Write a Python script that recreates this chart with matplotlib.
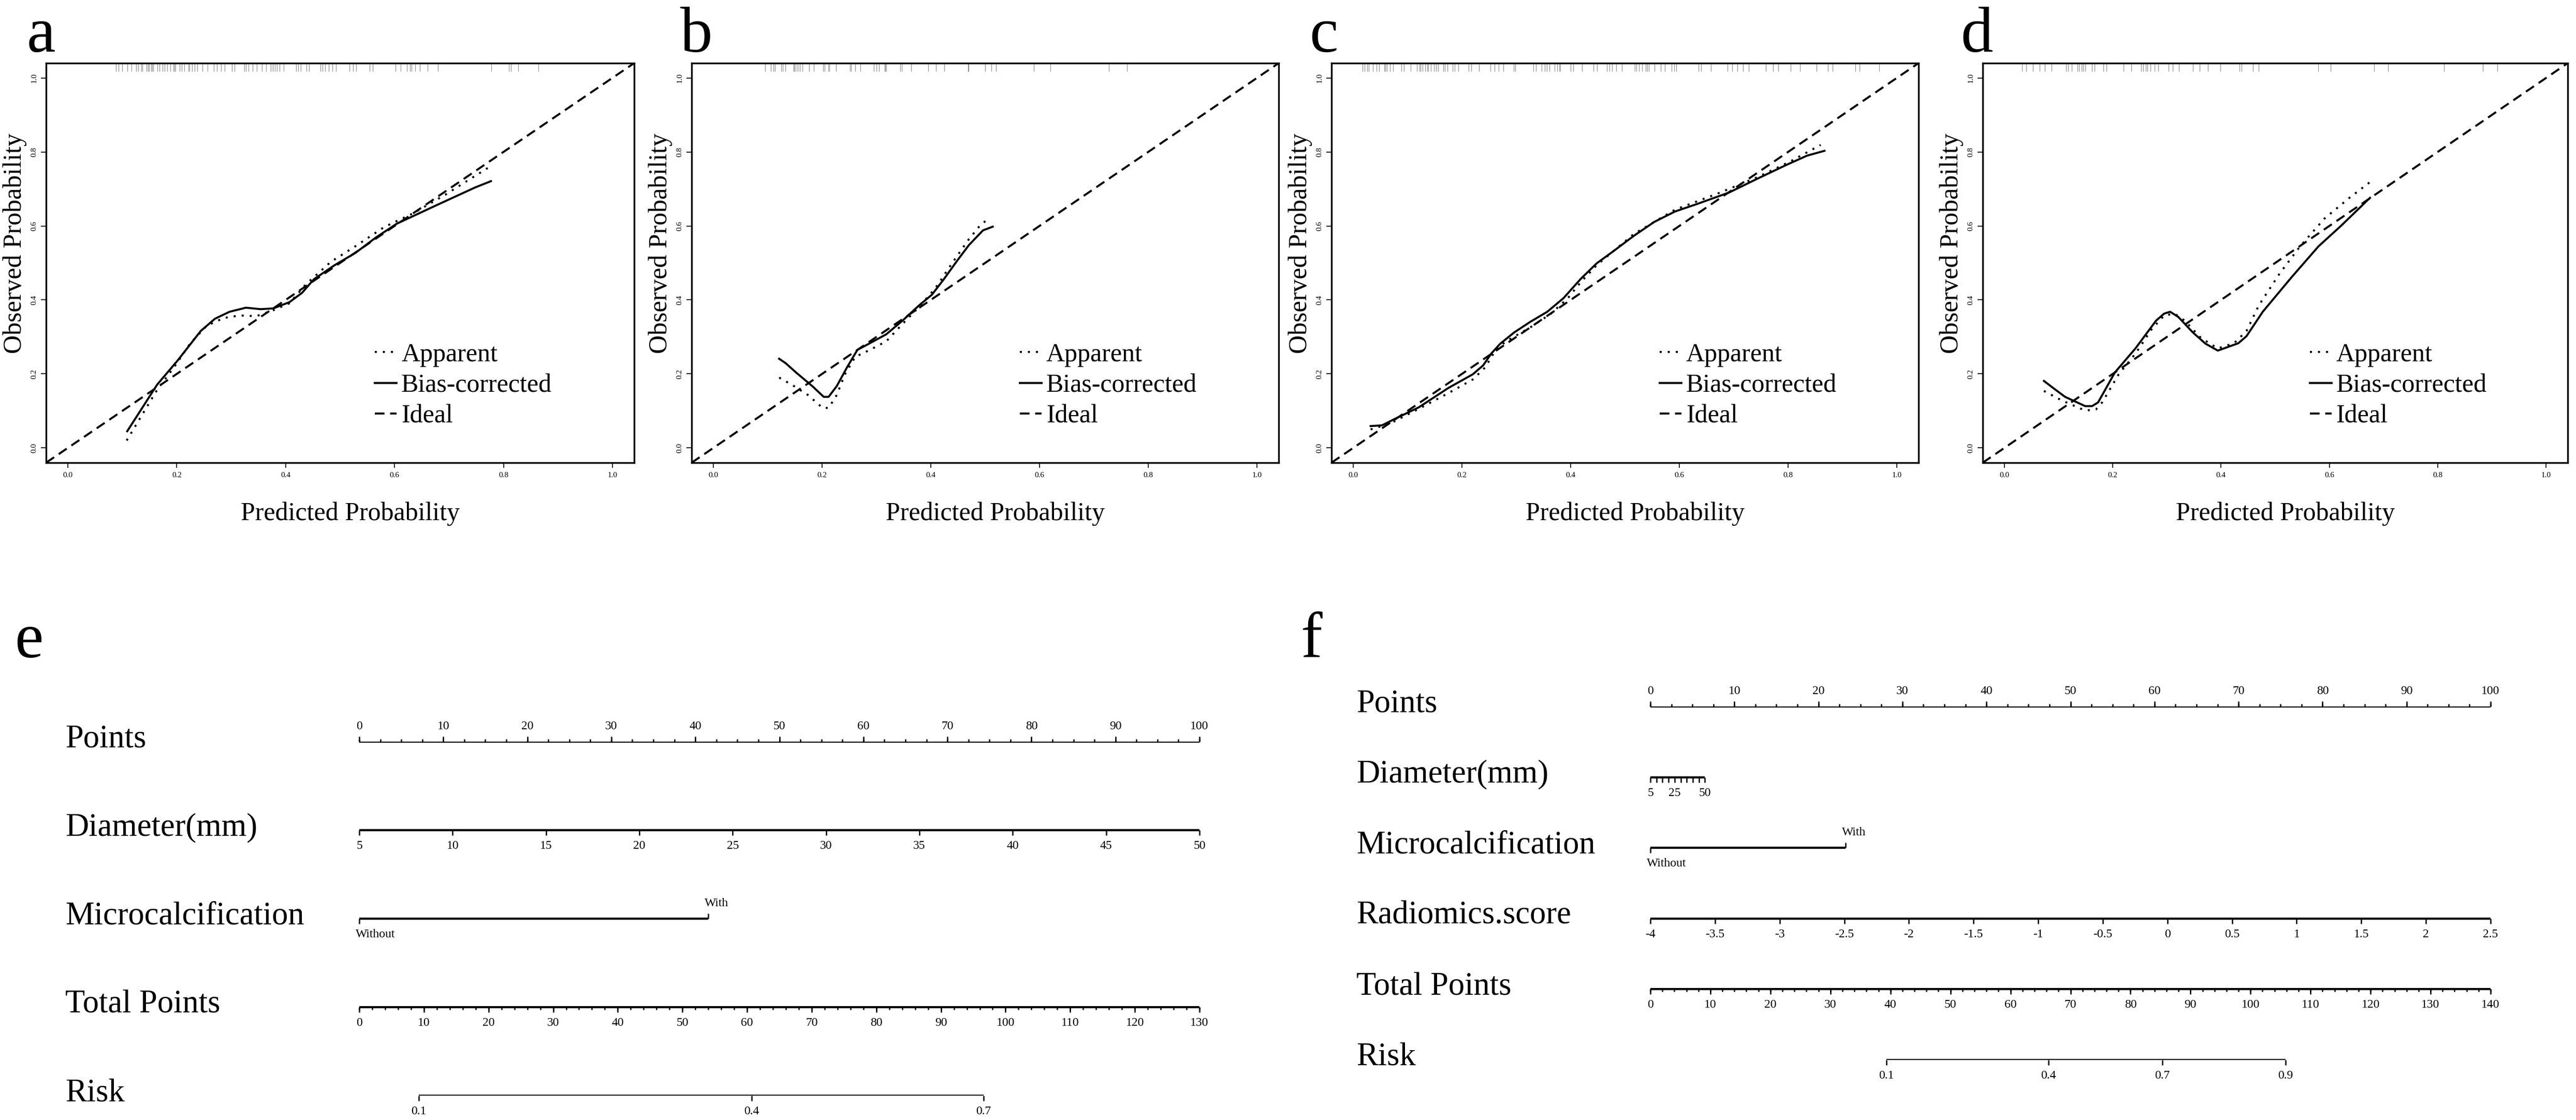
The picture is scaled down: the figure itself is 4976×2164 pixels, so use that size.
import numpy as np
import matplotlib
matplotlib.use("Agg")
import matplotlib.pyplot as plt
from matplotlib.lines import Line2D

# ---------------------------------------------------------------- data
# calibration curves (predicted, observed)
a_app_x = [0.108, 0.164, 0.195, 0.225, 0.255, 0.286, 0.316, 0.346, 0.377, 0.407, 0.437, 0.483, 0.528, 0.581, 0.634, 0.695, 0.740, 0.777]
a_app_y = [0.020, 0.157, 0.218, 0.283, 0.330, 0.351, 0.358, 0.356, 0.372, 0.391, 0.442, 0.503, 0.545, 0.597, 0.634, 0.686, 0.728, 0.762]
a_bias_x = [0.109, 0.164, 0.202, 0.244, 0.270, 0.297, 0.327, 0.354, 0.377, 0.407, 0.430, 0.452, 0.490, 0.528, 0.566, 0.604, 0.680, 0.748, 0.777]
a_bias_y = [0.045, 0.171, 0.237, 0.316, 0.349, 0.368, 0.379, 0.375, 0.377, 0.394, 0.419, 0.456, 0.494, 0.527, 0.569, 0.606, 0.658, 0.704, 0.721]

b_app_x = [0.121, 0.144, 0.174, 0.201, 0.212, 0.227, 0.242, 0.261, 0.288, 0.318, 0.348, 0.379, 0.409, 0.439, 0.470, 0.490, 0.506]
b_app_y = [0.190, 0.171, 0.143, 0.108, 0.108, 0.143, 0.199, 0.246, 0.265, 0.288, 0.335, 0.382, 0.433, 0.499, 0.564, 0.600, 0.620]
b_bias_x = [0.121, 0.133, 0.152, 0.182, 0.203, 0.212, 0.227, 0.246, 0.265, 0.288, 0.318, 0.348, 0.379, 0.402, 0.424, 0.447, 0.470, 0.496, 0.514]
b_bias_y = [0.241, 0.229, 0.204, 0.167, 0.138, 0.138, 0.167, 0.218, 0.265, 0.283, 0.307, 0.344, 0.386, 0.414, 0.456, 0.503, 0.548, 0.588, 0.598]

c_app_x = [0.032, 0.068, 0.121, 0.175, 0.220, 0.243, 0.262, 0.281, 0.326, 0.364, 0.395, 0.418, 0.448, 0.516, 0.592, 0.668, 0.744, 0.805, 0.860]
c_app_y = [0.050, 0.066, 0.106, 0.148, 0.185, 0.218, 0.265, 0.288, 0.326, 0.363, 0.405, 0.447, 0.494, 0.578, 0.644, 0.686, 0.732, 0.775, 0.819]
c_bias_x = [0.032, 0.053, 0.076, 0.121, 0.175, 0.220, 0.239, 0.254, 0.270, 0.296, 0.326, 0.357, 0.387, 0.418, 0.448, 0.478, 0.516, 0.554, 0.592, 0.630, 0.691, 0.744, 0.797, 0.835, 0.867]
c_bias_y = [0.059, 0.061, 0.078, 0.110, 0.162, 0.199, 0.223, 0.255, 0.281, 0.312, 0.341, 0.368, 0.405, 0.456, 0.499, 0.531, 0.573, 0.611, 0.639, 0.658, 0.690, 0.728, 0.765, 0.790, 0.803]

d_app_x = [0.073, 0.105, 0.149, 0.169, 0.181, 0.211, 0.242, 0.272, 0.295, 0.314, 0.333, 0.363, 0.394, 0.424, 0.447, 0.470, 0.508, 0.546, 0.591, 0.637, 0.679]
d_app_y = [0.154, 0.129, 0.101, 0.104, 0.124, 0.199, 0.255, 0.321, 0.358, 0.363, 0.344, 0.297, 0.269, 0.283, 0.316, 0.386, 0.471, 0.545, 0.620, 0.676, 0.723]
d_bias_x = [0.073, 0.090, 0.112, 0.149, 0.162, 0.173, 0.204, 0.242, 0.280, 0.295, 0.306, 0.321, 0.348, 0.371, 0.394, 0.432, 0.447, 0.477, 0.530, 0.580, 0.622, 0.675]
d_bias_y = [0.181, 0.162, 0.138, 0.113, 0.113, 0.123, 0.204, 0.269, 0.344, 0.363, 0.368, 0.354, 0.312, 0.282, 0.263, 0.283, 0.302, 0.368, 0.461, 0.545, 0.601, 0.676]

# rug of predicted probabilities (top of each calibration panel)
rug_a = [0.088, 0.093, 0.100, 0.109, 0.117, 0.125, 0.129, 0.135, 0.137, 0.144, 0.147, 0.149, 0.153, 0.155,
         0.157, 0.164, 0.168, 0.174, 0.178, 0.182, 0.188, 0.194, 0.196, 0.198, 0.205, 0.209, 0.214, 0.221,
         0.223, 0.228, 0.233, 0.238, 0.247, 0.257, 0.268, 0.274, 0.281, 0.288, 0.301, 0.306, 0.324, 0.327,
         0.332, 0.339, 0.347, 0.356, 0.364, 0.373, 0.376, 0.380, 0.384, 0.389, 0.396, 0.419, 0.423, 0.428,
         0.438, 0.443, 0.464, 0.468, 0.472, 0.479, 0.486, 0.492, 0.517, 0.524, 0.529, 0.554, 0.560, 0.602,
         0.611, 0.623, 0.628, 0.631, 0.638, 0.646, 0.661, 0.680, 0.778, 0.810, 0.814, 0.827, 0.864]
rug_b = [0.095, 0.106, 0.110, 0.113, 0.125, 0.128, 0.132, 0.148, 0.149, 0.151, 0.155, 0.159, 0.164, 0.176,
         0.185, 0.202, 0.205, 0.211, 0.213, 0.226, 0.251, 0.253, 0.261, 0.270, 0.295, 0.300, 0.305, 0.315,
         0.316, 0.318, 0.344, 0.347, 0.364, 0.395, 0.410, 0.425, 0.469, 0.470, 0.500, 0.511, 0.520, 0.590,
         0.620, 0.728, 0.761]
rug_c = [0.017, 0.021, 0.026, 0.029, 0.036, 0.043, 0.048, 0.057, 0.059, 0.062, 0.068, 0.073, 0.089, 0.093,
         0.106, 0.117, 0.122, 0.124, 0.128, 0.132, 0.136, 0.138, 0.143, 0.149, 0.152, 0.156, 0.166, 0.169,
         0.173, 0.183, 0.187, 0.193, 0.212, 0.217, 0.231, 0.252, 0.260, 0.268, 0.276, 0.295, 0.298, 0.331,
         0.336, 0.347, 0.352, 0.356, 0.361, 0.370, 0.375, 0.379, 0.381, 0.400, 0.405, 0.421, 0.442, 0.449,
         0.467, 0.471, 0.476, 0.484, 0.494, 0.518, 0.521, 0.526, 0.531, 0.538, 0.541, 0.544, 0.554, 0.566,
         0.573, 0.586, 0.590, 0.594, 0.635, 0.640, 0.658, 0.689, 0.697, 0.707, 0.717, 0.728, 0.759, 0.772,
         0.782, 0.805, 0.822, 0.852, 0.873, 0.882, 0.924, 0.931, 0.968]
rug_d = [0.033, 0.040, 0.053, 0.065, 0.075, 0.087, 0.114, 0.118, 0.124, 0.135, 0.138, 0.143, 0.145, 0.149,
         0.162, 0.166, 0.183, 0.188, 0.220, 0.234, 0.252, 0.256, 0.261, 0.264, 0.270, 0.277, 0.284, 0.303,
         0.311, 0.322, 0.348, 0.360, 0.376, 0.399, 0.434, 0.438, 0.459, 0.469, 0.579, 0.602, 0.683, 0.708,
         0.812, 0.883, 0.910]

cal_letters = ["a", "b", "c", "d"]
legend_labels = ["Apparent", "Bias-corrected", "Ideal"]
prob_ticks = [0.0, 0.2, 0.4, 0.6, 0.8, 1.0]

# nomogram e
e_rows = ["Points", "Diameter(mm)", "Microcalcification", "Total Points", "Risk"]
e_diam_ticks = [5, 10, 15, 20, 25, 30, 35, 40, 45, 50]
e_diam_points = [0, 100]            # points at 5 mm and 50 mm
e_micro_levels = ["Without", "With"]
e_micro_points = [0, 41.5]
e_total_ticks = [0, 10, 20, 30, 40, 50, 60, 70, 80, 90, 100, 110, 120, 130]
e_risk_labels = ["0.1", "0.4", "0.7"]
e_risk_total = [9.2, 60.7, 96.6]    # total points at each risk tick

# nomogram f
f_rows = ["Points", "Diameter(mm)", "Microcalcification", "Radiomics.score", "Total Points", "Risk"]
f_diam_ticks = [5, 10, 15, 20, 25, 30, 35, 40, 45, 50]
f_diam_labels = {5: "5", 25: "25", 50: "50"}
f_diam_points = [0, 6.5]
f_micro_levels = ["Without", "With"]
f_micro_points = [0, 23.2]
f_rad_ticks = [-4, -3.5, -3, -2.5, -2, -1.5, -1, -0.5, 0, 0.5, 1, 1.5, 2, 2.5]
f_rad_points = [0, 100]
f_total_ticks = [0, 10, 20, 30, 40, 50, 60, 70, 80, 90, 100, 110, 120, 130, 140]
f_risk_labels = ["0.1", "0.4", "0.7", "0.9"]
f_risk_total = [39.3, 66.3, 85.3, 105.8]

points_ticks = [0, 10, 20, 30, 40, 50, 60, 70, 80, 90, 100]

# ---------------------------------------------------------------- figure
W, H, DPI = 4976, 2164, 100
plt.rcParams['font.family'] = ['Liberation Serif', 'DejaVu Serif']
fig = plt.figure(figsize=(W / DPI, H / DPI), dpi=DPI)


def px_axes(x0, y0, x1, y1):
    return fig.add_axes([x0 / W, 1 - y1 / H, (x1 - x0) / W, (y1 - y0) / H])


def ftext(x, y, s, **kw):
    fig.text(x / W, 1 - y / H, s, **kw)


LW = 2.8
DOT = (0, (1, 3))
DASH = (0, (4.8, 2.8))

cal_boxes = [(89, 122, 1225, 894), (1336, 122, 2470, 894),
             (2572, 122, 3706, 894), (3830, 122, 4960, 894)]
letter_x = [52, 1314, 2529, 3788]
apps = [(a_app_x, a_app_y), (b_app_x, b_app_y), (c_app_x, c_app_y), (d_app_x, d_app_y)]
biases = [(a_bias_x, a_bias_y), (b_bias_x, b_bias_y), (c_bias_x, c_bias_y), (d_bias_x, d_bias_y)]
rugs = [rug_a, rug_b, rug_c, rug_d]

for i, box in enumerate(cal_boxes):
    ax = px_axes(*box)
    ax.set_xlim(-0.04, 1.04)
    ax.set_ylim(-0.04, 1.04)
    ax.vlines(rugs[i], 1.018, 1.04, color='#8c8c8c', lw=0.8)
    ax.axline((0, 0), slope=1, color='k', lw=LW, ls=DASH)
    ax.plot(*apps[i], color='k', lw=LW, ls=DOT, dash_capstyle='butt')
    ax.plot(*biases[i], color='k', lw=LW)
    ax.set_xticks(prob_ticks)
    ax.set_yticks(prob_ticks)
    ax.set_xticklabels([f"{t:.1f}" for t in prob_ticks])
    ax.set_yticklabels([f"{t:.1f}" for t in prob_ticks], rotation=90, va='center')
    ax.tick_params(direction='out', length=7.2, width=1.2, labelsize=11)
    ax.tick_params(axis='x', pad=6)
    ax.tick_params(axis='y', pad=4.7)
    for sp in ax.spines.values():
        sp.set_linewidth(2.4)
    handles = [Line2D([], [], color='k', lw=LW, ls=DOT, dash_capstyle='butt'),
               Line2D([], [], color='k', lw=LW),
               Line2D([], [], color='k', lw=LW, ls=DASH)]
    ax.legend(handles, legend_labels, loc='upper left', bbox_to_anchor=(0.559, 0.300),
              frameon=False, fontsize=36, handlelength=0.84, handletextpad=0.18,
              labelspacing=0.26, borderpad=0, borderaxespad=0)
    x0, y0, x1, y1 = box
    ftext((x0 + x1) / 2 + 20, 993, "Predicted Probability", fontsize=36, ha='center', va='center')
    ftext(x0 - 60, (y0 + y1) / 2 - 38, "Observed Probability", fontsize=36, ha='center',
          va='center', rotation=90)
    ftext(letter_x[i], 100, cal_letters[i], fontsize=90, ha='left', va='baseline')

ftext(28, 1270, "e", fontsize=90, ha='left', va='baseline')
ftext(2512, 1270, "f", fontsize=90, ha='left', va='baseline')

# ---------------------------------------------------------------- nomogram helpers
NLW = 3.0
TICK_UP, TICK_DOWN = 2, 3


def lin(values, vrange, prange):
    return np.interp(values, [vrange[0], vrange[-1]], prange)


def scale_row(ax, row, pos, labels, side, minor=None, label_pos=None, ha='center', dx=0):
    pos = np.asarray(pos, dtype=float)
    ax.hlines(row, pos.min(), pos.max(), color='k', lw=NLW)
    mk = TICK_UP if side == 'up' else TICK_DOWN
    if minor is not None and len(minor):
        ax.plot(minor, np.full(len(minor), row), ls='none', marker=mk, ms=3.8, mew=1.8,
                color='k', clip_on=False)
    ax.plot(pos, np.full(len(pos), row), ls='none', marker=mk, ms=7.4, mew=1.8,
            color='k', clip_on=False)
    lp = pos if label_pos is None else label_pos
    dy = 21.3 if side == 'up' else -22.0
    for p, l in zip(lp, labels):
        ax.annotate(l, (p, row), xytext=(dx, dy), textcoords='offset points',
                    ha=ha, va='center', fontsize=17, annotation_clip=False)


def row_name(ax, row, name, xpix):
    ax.annotate(name, (xpix, row), xycoords=('figure pixels', 'data'),
                xytext=(0, -7.2), textcoords='offset points', ha='left', va='baseline',
                fontsize=45, annotation_clip=False)


def fmt(v):
    return f"{v:g}"


def two_level(ax, row, pts, levels):
    ax.hlines(row, pts[0], pts[1], color='k', lw=NLW)
    ax.plot([pts[0]], [row], ls='none', marker=TICK_DOWN, ms=7.4, mew=1.8, color='k', clip_on=False)
    ax.plot([pts[1]], [row], ls='none', marker=TICK_UP, ms=7.4, mew=1.8, color='k', clip_on=False)
    ax.annotate(levels[0], (pts[0], row), xytext=(-5, -22.0), textcoords='offset points',
                ha='left', va='center', fontsize=17, annotation_clip=False)
    ax.annotate(levels[1], (pts[1], row), xytext=(-5, 21.3), textcoords='offset points',
                ha='left', va='center', fontsize=17, annotation_clip=False)


# ---------------------------------------------------------------- nomogram e
axe = px_axes(694, 1433, 2317, 2117)
axe.set_xlim(0, 100)
axe.set_ylim(len(e_rows) - 1, 0)
axe.axis('off')
for r, name in enumerate(e_rows):
    row_name(axe, r, name, 126)

scale_row(axe, 0, points_ticks, [fmt(v) for v in points_ticks], 'up',
          minor=np.arange(0, 100.01, 2.5))
scale_row(axe, 1, lin(e_diam_ticks, e_diam_ticks, e_diam_points),
          [fmt(v) for v in e_diam_ticks], 'down')
two_level(axe, 2, e_micro_points, e_micro_levels)
e_tmax = e_total_ticks[-1]
scale_row(axe, 3, lin(e_total_ticks, e_total_ticks, [0, 100]), [fmt(v) for v in e_total_ticks], 'down',
          minor=lin(np.arange(0, e_tmax + 0.01, 2), e_total_ticks, [0, 100]))
scale_row(axe, 4, lin(e_risk_total, e_total_ticks, [0, 100]), e_risk_labels, 'down')

# ---------------------------------------------------------------- nomogram f
axf = px_axes(3188, 1365, 4811, 2048)
axf.set_xlim(0, 100)
axf.set_ylim(len(f_rows) - 1, 0)
axf.axis('off')
for r, name in enumerate(f_rows):
    row_name(axf, r, name, 2620)

scale_row(axf, 0, points_ticks, [fmt(v) for v in points_ticks], 'up',
          minor=np.arange(0, 100.01, 2.5))
scale_row(axf, 1, lin(f_diam_ticks, f_diam_ticks, f_diam_points), list(f_diam_labels.values()), 'down',
          label_pos=lin(list(f_diam_labels.keys()), f_diam_ticks, f_diam_points))
two_level(axf, 2, f_micro_points, f_micro_levels)
scale_row(axf, 3, lin(f_rad_ticks, f_rad_ticks, f_rad_points), [fmt(v) for v in f_rad_ticks], 'down')
f_tmax = f_total_ticks[-1]
scale_row(axf, 4, lin(f_total_ticks, f_total_ticks, [0, 100]), [fmt(v) for v in f_total_ticks], 'down',
          minor=lin(np.arange(0, f_tmax + 0.01, 2), f_total_ticks, [0, 100]))
scale_row(axf, 5, lin(f_risk_total, f_total_ticks, [0, 100]), f_risk_labels, 'down')

fig.savefig("out.png", dpi=DPI, facecolor='white')
